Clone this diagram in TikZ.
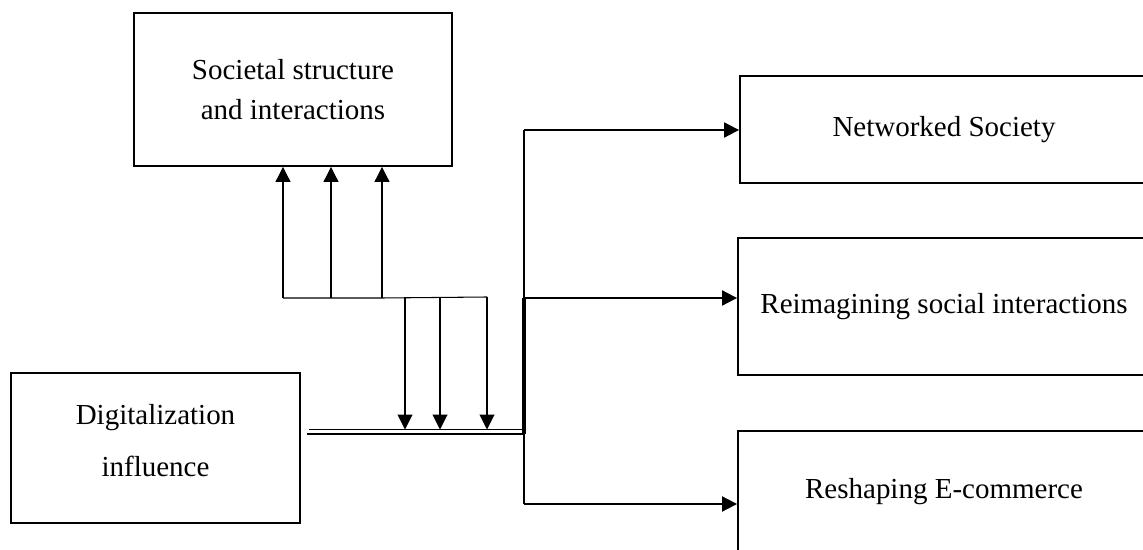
\documentclass[tikz,border=0pt]{standalone}
\usepackage{fontspec}
\setmainfont{Liberation Serif}
\usepackage{tikz}
\usetikzlibrary{arrows.meta, positioning, calc}

\begin{document}
\begin{tikzpicture}[
  x=0.02cm, y=-0.02cm,
  font=\fontsize{16.5}{22.7}\selectfont,
  box/.style={draw, line width=1.1pt, align=center, inner sep=0pt},
  arr/.style={-{Triangle[length=0.3cm, width=0.3cm]}, line width=0.6pt},
  bigarr/.style={-{Triangle[length=0.3cm, width=0.3cm]}, line width=1.1pt}
]
\useasboundingbox (0,0) rectangle (1143,550);

\node[box, minimum width=6.36cm, minimum height=3.06cm] (soc) at (293,89.5)
  {Societal structure\\and interactions};
\node[box, minimum width=5.78cm, minimum height=3.0cm, text depth=0.3cm] (dig) at (155.5,448)
  {Digitalization\\[7pt]influence};
\node[box, minimum width=8.16cm, minimum height=2.14cm] (net) at (944,129.5)
  {Networked Society};
\node[box, minimum width=8.24cm, minimum height=2.74cm] (rei) at (944,306.5)
  {Reimagining social interactions};
\node[box, minimum width=8.24cm, minimum height=2.44cm] (res) at (944,492)
  {Reshaping E-commerce};

%% Feedback bus between the two left boxes
\coordinate (up1) at (283,298);
\coordinate (up2) at (331,298);
\coordinate (up3) at (382,298);
\coordinate (dn1) at (405,297);
\coordinate (dn2) at (440,297);
\coordinate (dn3) at (487,297);
\draw[line width=0.6pt] (up1) -- (up3) -- (dn3);

%% Up arrows into societal structure
\draw[arr] (up1) -- (up1 |- soc.south);
\draw[arr] (up2) -- (up2 |- soc.south);
\draw[arr] (up3) -- (up3 |- soc.south);

%% Double line out of digitalization: thin on top, heavier below
\coordinate (dblT) at (309,429.5);
\coordinate (dblB) at (307,434);
\coordinate (jn)   at (524,434);
\draw[line width=0.6pt] (dblT) -- (dblT -| jn);
\draw[line width=1.3pt] (dblB) -- (jn);

%% Down arrows onto the double line
\draw[arr] (dn1) -- (dn1 |- dblT);
\draw[arr] (dn2) -- (dn2 |- dblT);
\draw[arr] (dn3) -- (dn3 |- dblT);

%% Trunk to the three outcomes
\coordinate (top) at (524,130);
\coordinate (mid) at (524,298);
\coordinate (bot) at (524,504);
\draw[line width=1.1pt] (top) -- (bot);
\draw[line width=2.2pt] (jn) -- (mid);
\draw[bigarr] (top) -- (top -| net.west);
\draw[bigarr] (mid) -- (mid -| rei.west);
\draw[bigarr] (bot) -- (bot -| res.west);
\end{tikzpicture}
\end{document}
